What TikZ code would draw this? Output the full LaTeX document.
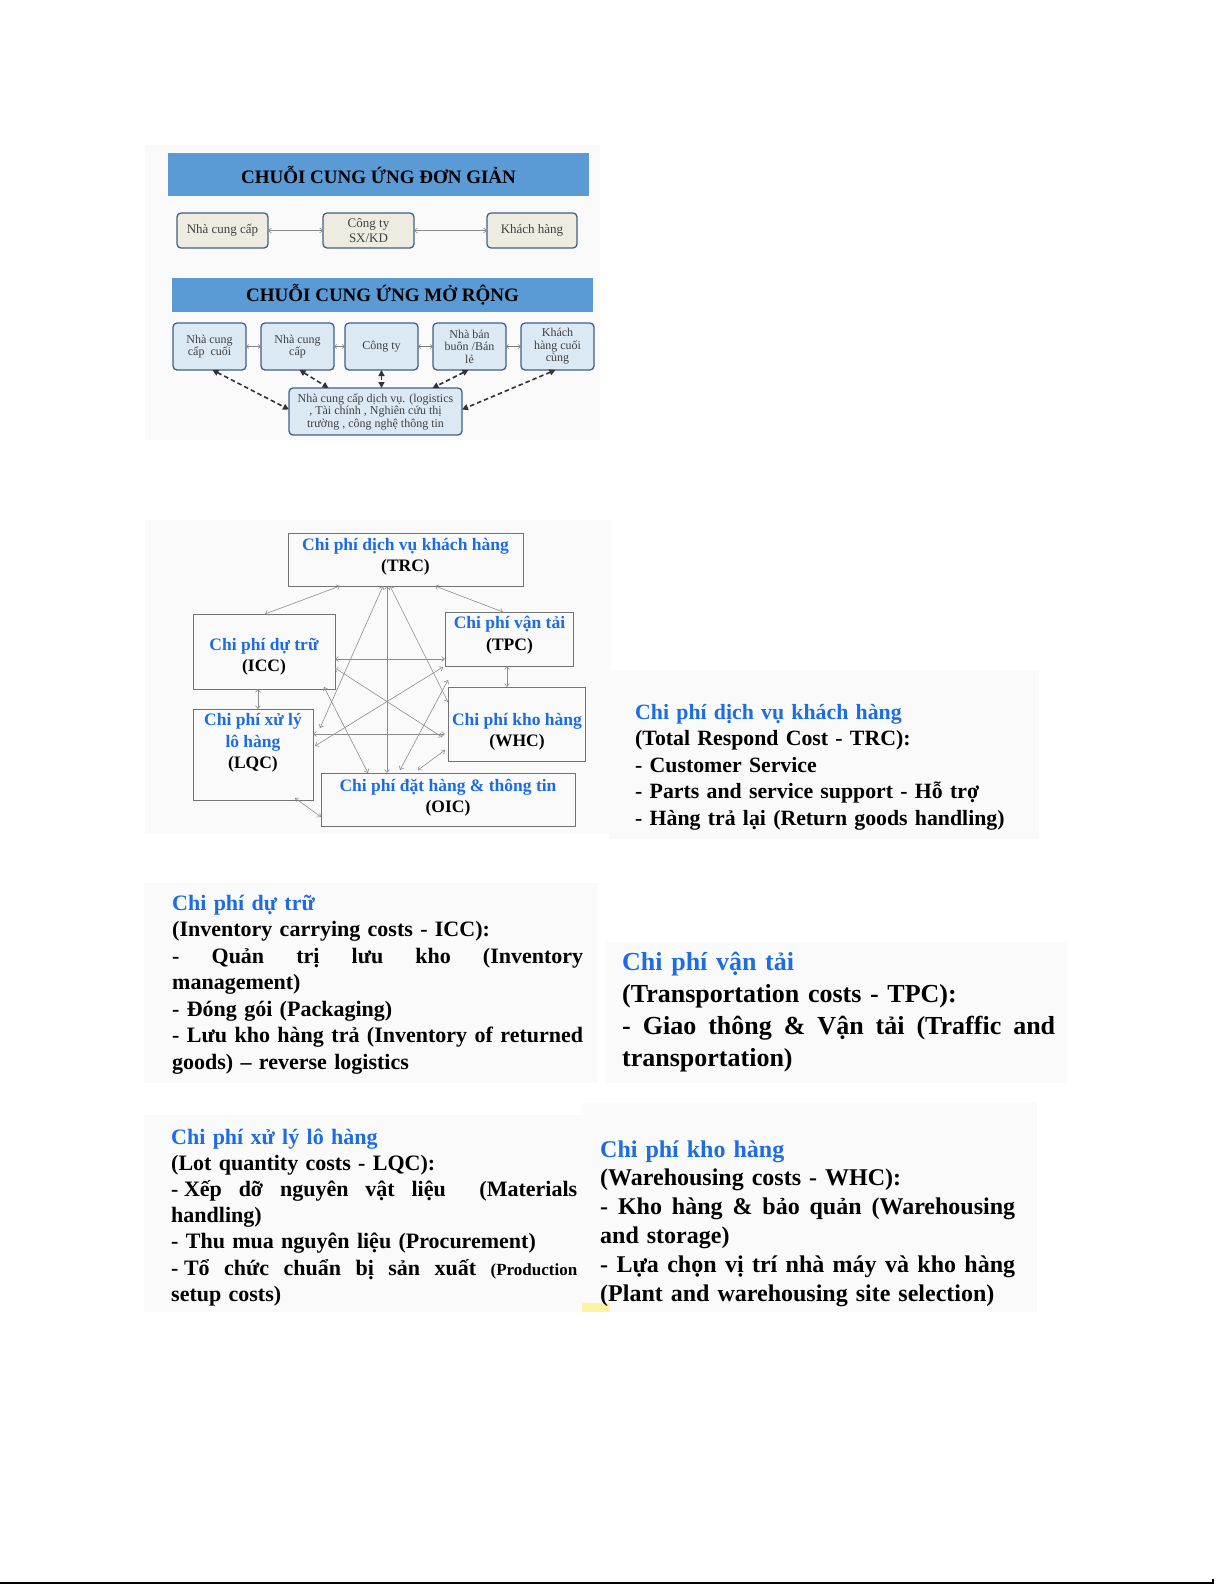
\documentclass[tikz,border=0pt]{standalone}
\usepackage{fontspec}
\setmainfont{Liberation Serif}
\usepackage{tikz}
\usetikzlibrary{arrows.meta,positioning,calc}
\definecolor{hdrblue}{RGB}{91,155,213}
\definecolor{boxedge}{RGB}{65,95,135}
\definecolor{beigefill}{RGB}{238,236,225}
\definecolor{paleblue}{RGB}{219,233,245}
\definecolor{costblue}{RGB}{28,108,228}
\definecolor{panelgray}{RGB}{250,250,250}
\definecolor{notegold}{RGB}{255,242,160}
\newcommand{\jline}[1]{{\spaceskip=0pt\xspaceskip=0pt\makebox[\hsize][s]{#1}}}
\newcommand{\hd}[1]{\textcolor{costblue}{#1}}

\begin{document}
\begin{tikzpicture}[x=1pt, y=-1pt,
    banner/.style={rectangle, fill=hdrblue, inner sep=0pt, outer sep=0pt,
                   font=\fontsize{19}{22}\selectfont\bfseries},
    chainbox/.style={rectangle, rounded corners=4pt, draw=boxedge, line width=1.3pt,
                     fill=beigefill, inner sep=0pt, outer sep=0pt, align=center,
                     text=black!75, font=\fontsize{13}{14.5}\selectfont},
    extbox/.style={chainbox, fill=paleblue, font=\fontsize{12}{12.5}\selectfont},
    costbox/.style={rectangle, draw=black!55, line width=0.6pt, inner sep=0pt, outer sep=0pt},
    costlbl/.style={align=center, inner sep=0pt, font=\fontsize{17.5}{21.5}\selectfont\bfseries},
    note/.style={anchor=base west, inner sep=0pt, align=left},
    arrow/.style={{Straight Barb[length=3pt,width=5pt]}-{Straight Barb[length=3pt,width=5pt]},
                  draw=black!45, line width=0.6pt},
    link/.style={{Straight Barb[length=2.5pt,width=4pt]}-{Straight Barb[length=2.5pt,width=4pt]},
                 draw=black!50, line width=0.5pt},
    dasharrow/.style={{Triangle[length=6pt,width=6pt]}-{Triangle[length=6pt,width=6pt]},
                      dash pattern=on 4.5pt off 3pt, draw=black!80, line width=1.6pt}
]
\useasboundingbox (0,0) rectangle (1225,1585);
\fill[white] (0,0) rectangle (1225,1585);

% screenshot panels
\fill[panelgray] (145,145) rectangle (600,440);
\fill[panelgray] (145,520) rectangle (611,834);
\fill[panelgray] (609,670) rectangle (1039,839);
\fill[panelgray] (144,883) rectangle (598,1083);
\fill[panelgray] (606,942) rectangle (1067,1083);
\fill[panelgray] (144,1115) rectangle (582,1312);
\fill[panelgray] (582,1103) rectangle (1037,1312);
\fill[notegold] (582,1303) rectangle (610,1312);

% simple chain
\node[banner, minimum width=421pt, minimum height=43pt] (simple) at (378.5,174.5) {CHUỖI CUNG ỨNG ĐƠN GIẢN};
\node[chainbox, minimum width=91pt, minimum height=35pt] (sup)  at (222.5,230.5) {Nhà cung cấp};
\node[chainbox, minimum width=91pt, minimum height=35pt] (firm) at (368.5,230.5) {Công ty\\SX/KD};
\node[chainbox, minimum width=90pt, minimum height=35pt] (cust) at (532,230.5) {Khách hàng};
\draw[arrow] (sup) -- (firm);
\draw[arrow] (firm) -- (cust);

% extended chain
\node[banner, minimum width=421pt, minimum height=34pt] (extended) at (382.5,295) {CHUỖI CUNG ỨNG MỞ RỘNG};
\node[extbox, minimum width=73pt, minimum height=47pt] (e1) at (209.5,346.5) {Nhà cung\\cấp\ \ cuối};
\node[extbox, minimum width=73pt, minimum height=47pt] (e2) at (297.5,346.5) {Nhà cung\\cấp};
\node[extbox, minimum width=73pt, minimum height=47pt] (e3) at (381.5,346.5) {Công ty};
\node[extbox, minimum width=73pt, minimum height=47pt] (e4) at (469.5,346.5) {Nhà bán\\buôn /Bán\\lẻ};
\node[extbox, minimum width=73pt, minimum height=47pt] (e5) at (557.5,346.5) {Khách\\hàng cuối\\cùng};
\node[extbox, minimum width=173pt, minimum height=47pt] (svc) at (375.5,411.5)
    {Nhà cung cấp dịch vụ. (logistics\\, Tài chính , Nghiên cứu thị\\trường , công nghệ thông tin};
\draw[link] (e1) -- (e2);
\draw[link] (e2) -- (e3);
\draw[link] (e3) -- (e4);
\draw[link] (e4) -- (e5);
\draw[dasharrow] ([xshift=3pt]e1.south) -- ([yshift=2pt]svc.west);
\draw[dasharrow] ([xshift=2pt]e2.south) -- ([xshift=-47pt]svc.north);
\draw[dasharrow] (e3.south) -- (e3.south |- svc.north);
\draw[dasharrow] ([xshift=-1pt]e4.south) -- ([xshift=57pt]svc.north);
\draw[dasharrow] ([xshift=-2pt]e5.south) -- ([yshift=2pt]svc.east);

% cost network
\node[costbox, minimum width=235pt, minimum height=53pt] (trc) at (405.5,559.5) {};
\node[costbox, minimum width=142pt, minimum height=75pt] (icc) at (264,651.5) {};
\node[costbox, minimum width=128pt, minimum height=54pt] (tpc) at (509,639) {};
\node[costbox, minimum width=120pt, minimum height=91pt] (lqc) at (253,754.5) {};
\node[costbox, minimum width=137pt, minimum height=74pt] (whc) at (516.5,724) {};
\node[costbox, minimum width=254pt, minimum height=53pt] (oic) at (448,799.5) {};
\node[costlbl] (trc-t) at (405.5,557) {\hd{Chi phí dịch vụ khách hàng}\\(TRC)};
\node[costlbl] (icc-t) at (264,657) {\hd{Chi phí dự trữ}\\(ICC)};
\node[costlbl] (tpc-t) at (509.5,635) {\hd{Chi phí vận tải}\\(TPC)};
\node[costlbl] (lqc-t) at (253,743) {\hd{Chi phí xử lý}\\\hd{lô hàng}\\(LQC)};
\node[costlbl] (whc-t) at (517,732) {\hd{Chi phí kho hàng}\\(WHC)};
\node[costlbl] (oic-t) at (448,797.5) {\hd{Chi phí đặt hàng \& thông tin}\\(OIC)};

\draw[arrow] ([xshift=52pt]trc.south west) -- ([xshift=1pt]icc.north);
\draw[arrow] ([xshift=147pt]trc.south west) -- ([xshift=-6pt]tpc.north);
\draw[arrow] ([xshift=99pt]trc.south west) -- ([xshift=66pt]oic.north west);
\draw[arrow] ([xshift=95pt]trc.south west) -- ([xshift=7pt,yshift=-19pt]lqc.north east);
\draw[arrow] ([xshift=102pt]trc.south west) -- ([yshift=-15pt]whc.north west);
\draw[arrow] ([yshift=-7.5pt]icc.east) -- ([yshift=-20pt]tpc.west);
\draw[arrow] ([yshift=-16.5pt]icc.east) -- ([xshift=-6pt,yshift=-13pt]whc.west);
\draw[arrow] ([xshift=-11pt,yshift=2pt]icc.south east) -- ([xshift=47pt]oic.north west);
\draw[arrow] ([xshift=-6pt]icc.south) -- ([xshift=5pt]lqc.north);
\draw[arrow] ([xshift=-2pt,yshift=-1pt]tpc.south west) -- ([xshift=2pt,yshift=8.5pt]lqc.east);
\draw[arrow] ([xshift=3pt,yshift=-14pt]tpc.south west) -- ([xshift=79pt,yshift=3pt]oic.north west);
\draw[arrow] ([xshift=-2pt]tpc.south) -- ([xshift=-9.5pt]whc.north);
\draw[arrow] ([yshift=20.5pt]lqc.east) -- ([xshift=-3pt,yshift=-10pt]whc.west);
\draw[arrow] ([xshift=-18pt,yshift=2pt]lqc.south east) -- ([yshift=-17.5pt]oic.west);
\draw[arrow] ([xshift=-3pt,yshift=11pt]whc.south west) -- ([xshift=97pt,yshift=3pt]oic.north west);

% notes
\node[note, text width=400pt, font=\fontsize{21.8}{26.5}\selectfont\bfseries] (trc-note) at (635,719)
    {\hd{Chi phí dịch vụ khách hàng}\\(Total Respond Cost - TRC):\\- Customer Service\\- Parts and service support - Hỗ trợ\\- Hàng trả lại (Return goods handling)};
\node[note, text width=411pt, font=\fontsize{22}{26.5}\selectfont\bfseries] (icc-note) at (172,910)
    {\hd{Chi phí dự trữ}\\(Inventory carrying costs - ICC):\\\jline{- Quản trị lưu kho (Inventory}\\management)\\- Đóng gói (Packaging)\\\jline{- Lưu kho hàng trả (Inventory of returned}\\goods) – reverse logistics};
\node[note, text width=433pt, font=\fontsize{26}{32.2}\selectfont\bfseries] (tpc-note) at (622,970)
    {\hd{Chi phí vận tải}\\(Transportation costs - TPC):\\\jline{- Giao thông \& Vận tải (Traffic and}\\transportation)};
\node[note, text width=406pt, font=\fontsize{22}{26.2}\selectfont\bfseries] (lqc-note) at (171,1144)
    {\hd{Chi phí xử lý lô hàng}\\(Lot quantity costs - LQC):\\\jline{\mbox{- Xếp} dỡ nguyên vật liệu \ (Materials}\\handling)\\- Thu mua nguyên liệu (Procurement)\\\jline{\mbox{- Tổ} chức chuẩn bị sản xuất {\fontsize{17}{20}\selectfont(Production}}\\setup costs)};
\node[note, text width=415pt, font=\fontsize{24}{28.8}\selectfont\bfseries] (whc-note) at (600,1157)
    {\hd{Chi phí kho hàng}\\(Warehousing costs - WHC):\\\jline{- Kho hàng \& bảo quản (Warehousing}\\and storage)\\\jline{- Lựa chọn vị trí nhà máy và kho hàng}\\(Plant and warehousing site selection)};

% page edge
\draw[line width=1.5pt] (0,1583) -- (1213,1583) -- (1213,1579);
\end{tikzpicture}
\end{document}
